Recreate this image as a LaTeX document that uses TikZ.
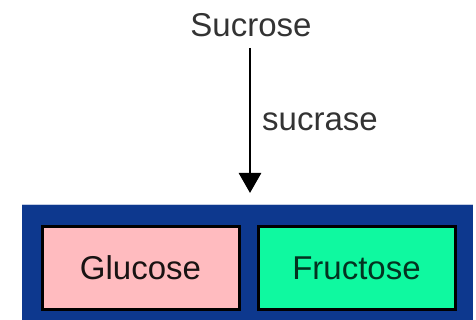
\documentclass[tikz,border=0pt]{standalone}
\usepackage{fontspec}
\setmainfont{Liberation Sans}
\usetikzlibrary{arrows.meta}
\definecolor{panelblue}{HTML}{0D388E}
\definecolor{gluc}{HTML}{FFBBBF}
\definecolor{fruc}{HTML}{0FF9A0}
\tikzset{
  x=1pt,y=-1pt,
  lbl/.style={font=\fontsize{33}{33}\selectfont, text=black!80, inner sep=0pt},
  sugarbox/.style={draw=black, line width=3pt, minimum width=197pt, minimum height=82pt, inner sep=0pt, font=\fontsize{33}{33}\selectfont, anchor=north west}
}
\begin{document}
\begin{tikzpicture}
\useasboundingbox (0,0) rectangle (476,320);
\fill[panelblue] (22,204) rectangle (473,320);
\draw[panelblue!25, line width=1pt] (22,204.5) -- (473,204.5);
\node[lbl] (suc) at (251,25) {Sucrose};
\coordinate (tip) at (250,193);
\draw[line width=2.8pt, -{Triangle[length=20pt,width=22pt]}] (250,48) -- (tip);
\node[lbl, anchor=west] (ase) at (262,122) {sucrase};
\node[sugarbox, fill=gluc, text=black!75!gluc!40!black] (glu) at (40.5,225.5) {\raisebox{-2pt}{Glucose}};
\node[sugarbox, fill=fruc, text=black!80!fruc] (fru) at (256.5,225.5) {\raisebox{-2pt}{Fructose}};
\end{tikzpicture}
\end{document}
